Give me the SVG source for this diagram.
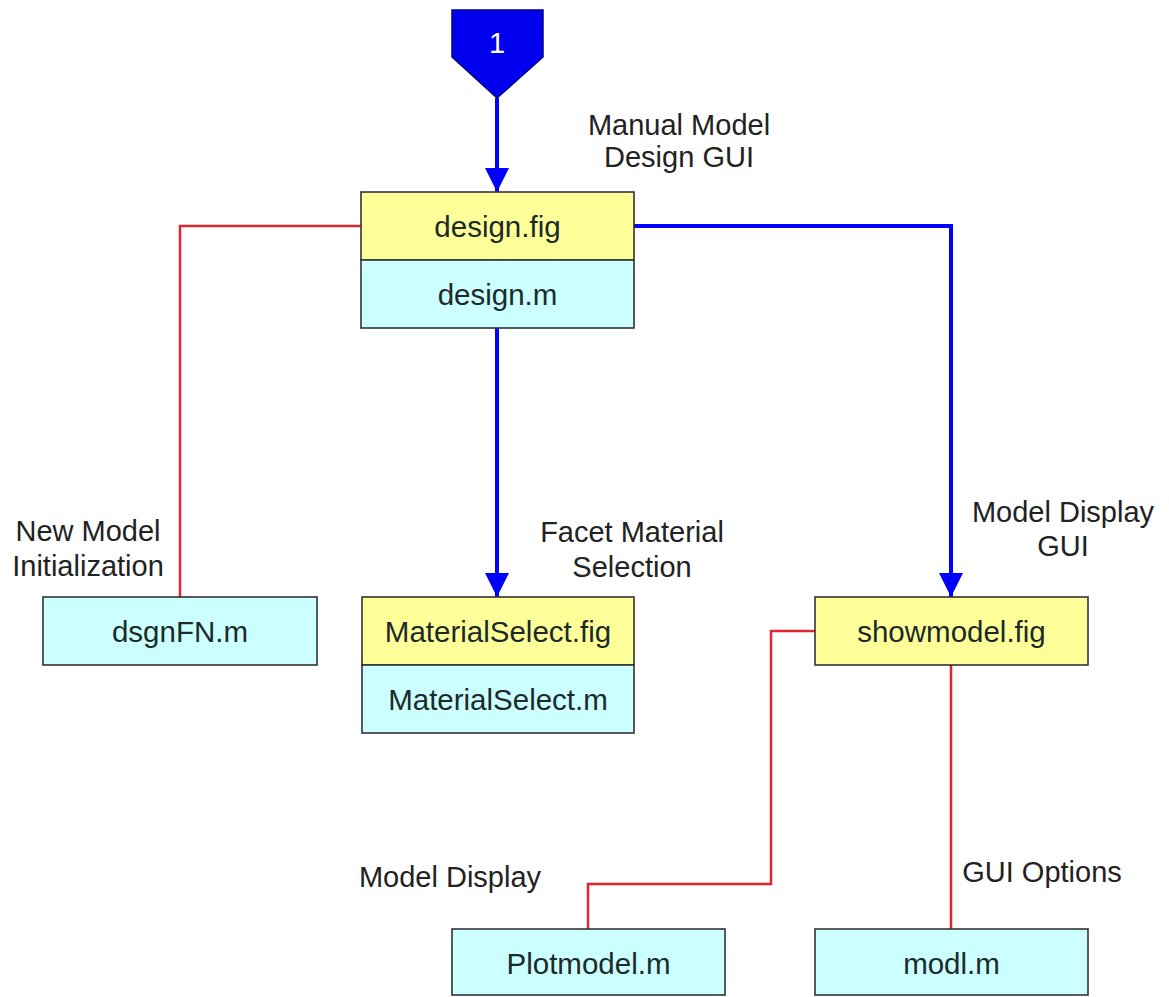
<svg xmlns="http://www.w3.org/2000/svg" width="1169" height="997" viewBox="0 0 1169 997">
<style>
.fig{fill:#ffff99;stroke:#333;stroke-width:1.6}
.mf{fill:#ccffff;stroke:#333;stroke-width:1.6}
.bt{font-family:"Liberation Sans",Arial,sans-serif;font-size:29.5px;fill:#1c2a2a;text-anchor:middle}
.lb{font-family:"Liberation Sans",Arial,sans-serif;font-size:29px;fill:#222;text-anchor:middle}
.blue{fill:none;stroke:#0000ff;stroke-width:4}
.red{fill:none;stroke:#e0262e;stroke-width:2.5}
</style>
<defs>
<marker id="ah" markerUnits="userSpaceOnUse" markerWidth="24" markerHeight="26" refX="24" refY="12" orient="auto" viewBox="0 0 24 24">
<path d="M0,0 L24,12 L0,24 Z" fill="#0000ff"/>
</marker>
</defs>
<g id="connectors">
<path class="blue" d="M497,98 L497,192" marker-end="url(#ah)"/>
<path class="blue" d="M497,328 L497,597" marker-end="url(#ah)"/>
<path class="blue" d="M634,226 L951,226 L951,597" marker-end="url(#ah)"/>
<path class="red" d="M361,226 L180,226 L180,597"/>
<path class="red" d="M815,631 L771,631 L771,884 L588,884 L588,929"/>
<path class="red" d="M951,665 L951,929"/>
</g>
<g id="start">
<polygon points="452,10 543,10 543,57 497,98 452,57" fill="#0000ee" stroke="#00008b" stroke-width="1.5"/>
<text x="497" y="53" font-family="Liberation Sans, Arial, sans-serif" font-size="29" fill="#ffffff" text-anchor="middle">1</text>
</g>
<g id="design">
<rect class="fig" x="361" y="192" width="273" height="68"/>
<rect class="mf" x="361" y="260" width="273" height="68"/>
<text class="bt" x="497.5" y="237">design.fig</text>
<text class="bt" x="497.5" y="305">design.m</text>
</g>
<g id="dsgnFN">
<rect class="mf" x="43" y="597" width="274" height="68"/>
<text class="bt" x="180" y="642">dsgnFN.m</text>
</g>
<g id="materialselect">
<rect class="fig" x="362" y="597" width="272" height="68"/>
<rect class="mf" x="362" y="665" width="272" height="68"/>
<text class="bt" x="498" y="642">MaterialSelect.fig</text>
<text class="bt" x="498" y="710">MaterialSelect.m</text>
</g>
<g id="showmodel">
<rect class="fig" x="815" y="597" width="273" height="68"/>
<text class="bt" x="951.5" y="642">showmodel.fig</text>
</g>
<g id="plotmodel">
<rect class="mf" x="452" y="929" width="273" height="66"/>
<text class="bt" x="588.5" y="974">Plotmodel.m</text>
</g>
<g id="modl">
<rect class="mf" x="815" y="929" width="273" height="66"/>
<text class="bt" x="951.5" y="974">modl.m</text>
</g>
<g id="labels">
<text class="lb" x="679" y="135">Manual Model</text>
<text class="lb" x="679" y="167">Design GUI</text>
<text class="lb" x="88" y="541">New Model</text>
<text class="lb" x="88" y="576">Initialization</text>
<text class="lb" x="632" y="542">Facet Material</text>
<text class="lb" x="632" y="577">Selection</text>
<text class="lb" x="1063" y="522">Model Display</text>
<text class="lb" x="1063" y="556">GUI</text>
<text class="lb" x="450" y="887">Model Display</text>
<text class="lb" x="1042" y="882">GUI Options</text>
</g>
</svg>
